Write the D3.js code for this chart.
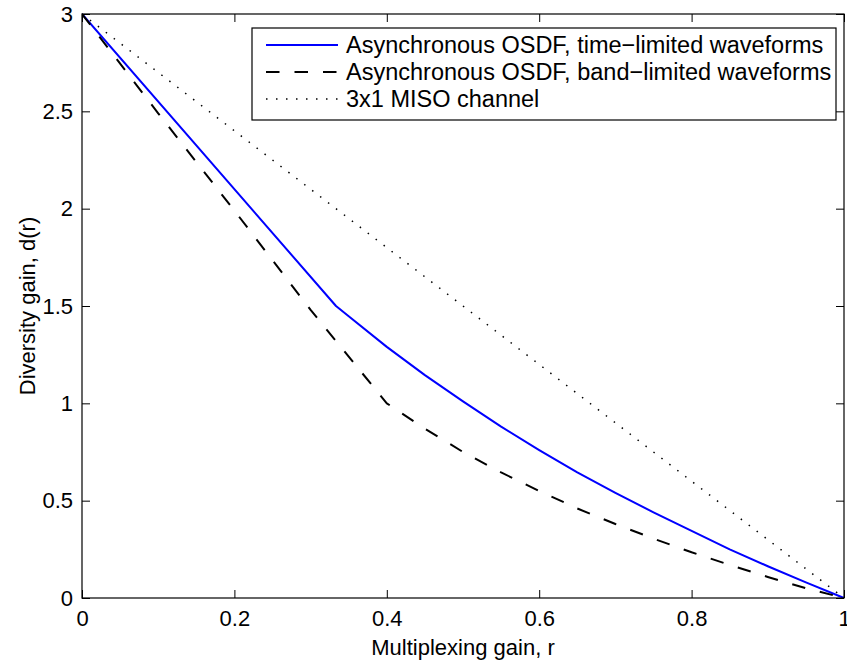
<!DOCTYPE html>
<html>
<head>
<meta charset="utf-8">
<script src="https://cdn.jsdelivr.net/npm/d3@7"></script>
<style>
  body { margin: 0; background: #fff; }
  svg { display: block; font-family: "Liberation Sans", Arial, sans-serif; }
</style>
</head>
<body>
<svg id="chart" width="847" height="663"></svg>
<script>
// ---- data ----
const xTicks = [0, 0.2, 0.4, 0.6, 0.8, 1];
const yTicks = [0, 0.5, 1, 1.5, 2, 2.5, 3];
const xTickLabels = ["0", "0.2", "0.4", "0.6", "0.8", "1"];
const yTickLabels = ["0", "0.5", "1", "1.5", "2", "2.5", "3"];

const timeLimitedR = [0, 1/3, 0.35, 0.4, 0.45, 0.5, 0.55, 0.6, 0.65, 0.7, 0.75, 0.8, 0.85, 0.9, 0.95, 1];
const timeLimitedD = [3, 1.5, 1.447, 1.29, 1.145, 1.01, 0.88, 0.76, 0.645, 0.54, 0.44, 0.345, 0.25, 0.163, 0.08, 0];

const bandLimitedR = [0, 0.1, 0.2, 0.3, 0.4, 0.45, 0.5, 0.55, 0.6, 0.65, 0.7, 0.75, 0.8, 0.85, 0.9, 0.95, 1];
const bandLimitedD = [3, 2.49, 1.99, 1.48, 1.0, 0.87, 0.75, 0.645, 0.55, 0.46, 0.38, 0.305, 0.235, 0.17, 0.108, 0.05, 0];

const misoR = [0, 1];
const misoD = [3, 0];

const seriesNames = [
  "Asynchronous OSDF, time\u2212limited waveforms",
  "Asynchronous OSDF, band\u2212limited waveforms",
  "3x1 MISO channel"
];
const xLabel = "Multiplexing gain, r";
const yLabel = "Diversity gain, d(r)";

// ---- layout ----
const L = 82, R = 844, T = 14, B = 598;
const FS = 22, LFS = 23.5;
const svg = d3.select("#chart");

const x = d3.scaleLinear().domain([0, 1]).range([L, R]);
const y = d3.scaleLinear().domain([0, 3]).range([B, T]);

const styles = [
  { stroke: "#0000ff", dash: null, width: 2 },
  { stroke: "#000000", dash: "13.5,15", width: 2 },
  { stroke: "#000000", dash: "1.5,8.5", width: 1.5 }
];

// lines
const line = d3.line().x(d => x(d[0])).y(d => y(d[1]));
const series = [
  d3.zip(timeLimitedR, timeLimitedD),
  d3.zip(bandLimitedR, bandLimitedD),
  d3.zip(misoR, misoD)
];
const plot = svg.append("g");
plot.append("defs").append("clipPath").attr("id", "clip")
  .append("rect").attr("x", L).attr("y", T - 2).attr("width", R - L + 2).attr("height", B - T + 4);
const lineG = plot.append("g").attr("clip-path", "url(#clip)");
series.forEach((s, i) => {
  lineG.append("path").datum(s)
    .attr("d", line)
    .attr("fill", "none")
    .attr("stroke", styles[i].stroke)
    .attr("stroke-width", styles[i].width)
    .attr("stroke-linejoin", "round")
    .attr("stroke-dasharray", styles[i].dash);
});

// axes
const fmtX = (d, i) => xTickLabels[i];
const fmtY = (d, i) => yTickLabels[i];
const ax = [
  svg.append("g").attr("transform", `translate(0,${B})`)
    .call(d3.axisBottom(x).tickValues(xTicks).tickFormat(fmtX).tickSize(-8).tickPadding(12)),
  svg.append("g").attr("transform", `translate(${L},0)`)
    .call(d3.axisLeft(y).tickValues(yTicks).tickFormat(fmtY).tickSize(-8).tickPadding(9)),
  svg.append("g").attr("transform", `translate(0,${T})`)
    .call(d3.axisTop(x).tickValues(xTicks).tickFormat("").tickSize(-8)),
  svg.append("g").attr("transform", `translate(${R},0)`)
    .call(d3.axisRight(y).tickValues(yTicks).tickFormat("").tickSize(-8))
];
ax.forEach(g => {
  g.select(".domain").remove();
  g.selectAll(".tick line").attr("stroke", "#000").attr("stroke-width", 1);
  g.selectAll(".tick text").attr("font-size", FS).attr("fill", "#000")
    .attr("font-family", "'Liberation Sans', Arial, sans-serif");
});
svg.append("rect").attr("x", L).attr("y", T).attr("width", R - L).attr("height", B - T)
  .attr("fill", "none").attr("stroke", "#000").attr("stroke-width", 1.2);

// axis labels
svg.append("text").attr("x", (L + R) / 2).attr("y", 655)
  .attr("text-anchor", "middle").attr("font-size", FS).text(xLabel);
svg.append("text").attr("transform", `translate(35,${(T + B) / 2}) rotate(-90)`)
  .attr("text-anchor", "middle").attr("font-size", FS).text(yLabel);

// legend
const lg = svg.append("g");
lg.append("rect").attr("x", 252).attr("y", 28).attr("width", 584).attr("height", 92)
  .attr("fill", "#fff").attr("stroke", "#000").attr("stroke-width", 1.2);
seriesNames.forEach((name, i) => {
  const cy = 45 + i * 27;
  lg.append("line").attr("x1", 266).attr("x2", 338).attr("y1", cy).attr("y2", cy)
    .attr("stroke", styles[i].stroke).attr("stroke-width", styles[i].width)
    .attr("stroke-dasharray", styles[i].dash);
  lg.append("text").attr("x", 346).attr("y", cy).attr("dy", "0.36em")
    .attr("font-size", LFS).text(name);
});
</script>
</body>
</html>
